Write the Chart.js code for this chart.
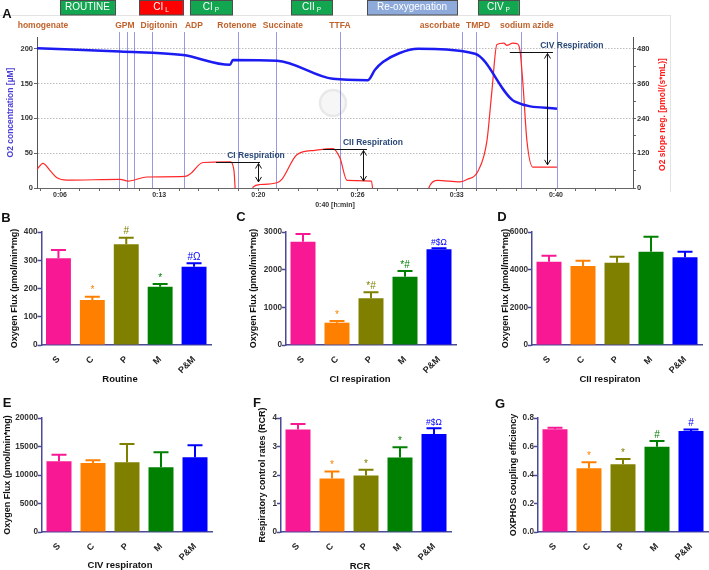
<!DOCTYPE html>
<html>
<head>
<meta charset="utf-8">
<script src="https://cdn.jsdelivr.net/npm/chart.js@4.4.1/dist/chart.umd.min.js"></script>
<style>
  body { margin: 0; background: #fff; }
  #fig { position: relative; width: 709px; height: 570px; background: #fff; overflow: hidden;
         font-family: 'Liberation Sans', Arial, sans-serif; }
  #fig canvas { position: absolute; }
  .lbl { position: absolute; font-weight: bold; color: #111; transform: translate(-50%, -50%); white-space: nowrap; }
  .letter { font-size: 13px; }
  .xt { font-size: 9.5px; }
</style>
</head>
<body>
<div id="fig">
  <canvas id="chartA" width="709" height="212" style="left:0;top:0"></canvas>
  <canvas id="chartB"></canvas>
  <canvas id="chartC"></canvas>
  <canvas id="chartD"></canvas>
  <canvas id="chartE"></canvas>
  <canvas id="chartF"></canvas>
  <canvas id="chartG"></canvas>

  <div class="lbl letter" style="left:7px;top:13px">A</div>
  <div class="lbl letter" style="left:6px;top:217px">B</div>
  <div class="lbl letter" style="left:241px;top:216px">C</div>
  <div class="lbl letter" style="left:502px;top:216px">D</div>
  <div class="lbl letter" style="left:7px;top:402px">E</div>
  <div class="lbl letter" style="left:257px;top:402px">F</div>
  <div class="lbl letter" style="left:500px;top:403px">G</div>

  <div class="lbl xt" style="left:120px;top:378px">Routine</div>
  <div class="lbl xt" style="left:360px;top:378px">CI respiration</div>
  <div class="lbl xt" style="left:610px;top:378px">CII respiraton</div>
  <div class="lbl xt" style="left:120px;top:564px">CIV respiraton</div>
  <div class="lbl xt" style="left:360px;top:565px">RCR</div>
</div>

<script>
// ---- Panel A: oxygraph trace (time in minutes) ----
const o2Time = [5.12, 10.7, 14.93, 18.09, 18.29, 21.25, 25.0, 27.36, 27.84, 28.37, 29.5, 30.73, 34.56, 37.25, 40.07];
const o2Conc = [201, 196, 191, 177, 184, 183, 157, 155, 170, 181, 194, 200, 193, 124, 114];

const slopeTime = [5.12, 5.52, 6.0, 6.47, 7.14, 10.7, 11.24, 12.51, 15.07, 15.4, 16.28, 18.09, 18.36, 18.5, 19.5,
  19.64, 20.11, 21.25, 21.59, 22.59, 23.8, 25.0, 25.48, 25.96, 27.6, 27.77, 31.26, 31.47, 32.0, 33.55,
  34.02, 34.76, 35.36, 35.7, 36.03, 36.5, 36.7, 37.1, 37.38, 37.58, 37.78, 38.05, 38.45, 40.07];
const slopeVal = [64, 85, 60, 35, 27, 30, 24, 38, 40, 48, 88, 90, 60, -40, -40,
  3, 12, 18, 31, 115, 130, 136, 104, 26, 24, -40, -40, 2, 26, 21,
  29, 58, 162, 337, 495, 500, 492, 500, 498, 476, 361, 163, 72, 72];

const xTickValues = [6.667, 13.333, 20, 26.667, 33.333, 40];
const xTickLabels = ['0:06', '0:13', '0:20', '0:26', '0:33', '0:40'];
const o2Ticks = [0, 50, 100, 150, 200];
const slopeTicks = [0, 120, 240, 360, 480];

const eventNames = ['homogenate', 'GPM', 'Digitonin', 'ADP', 'Rotenone', 'Succinate', 'TTFA', 'ascorbate', 'TMPD', 'sodium azide'];
const eventLabelAt = [5.52, 11.03, 13.32, 15.67, 18.56, 21.65, 25.48, 32.2, 34.76, 38.05];
const eventLines = [10.63, 11.17, 11.64, 12.85, 15.0, 18.63, 21.18, 25.48, 33.68, 34.62, 37.65, 40.07];

const stateNames = ['ROUTINE', 'CI', 'CI', 'CII', 'Re-oxygenation', 'CIV'];
const stateSubs = ['', 'L', 'P', 'P', '', 'P'];
const stateFrom = [6.67, 11.98, 15.4, 22.19, 27.3, 34.76];
const stateTo = [10.36, 14.93, 18.23, 24.95, 33.35, 37.51];
const stateColors = ['#12a650', '#ff0000', '#12a650', '#12a650', '#8eaadb', '#12a650'];

const respNames = ['CI Respiration', 'CII Respiration', 'CIV Respiration'];
const respLineFrom = [17.15, 24.34, 36.9];
const respLineTo = [20.11, 27.3, 39.8];
const respTop = [90, 136, 470];
const respArrowAt = [19.97, 27.03, 39.4];
const respBottom = [21, 24, 80];
const respTextAt = [19.84, 27.7, 41.07];

// ---- Panels B-G: group means and SEM ----
const groups = ['S', 'C', 'P', 'M', 'P&M'];
const groupColors = ['#f81894', '#ff8000', '#808000', '#008000', '#0000ff'];

const routineMean = [307, 159, 357, 206, 277];
const routineSem = [29, 12, 23, 10, 12];
const routineSig = ['', '*', '#', '*', '#Ω'];

const ciMean = [2743, 593, 1239, 1814, 2540];
const ciSem = [204, 44, 159, 151, 26];
const ciSig = ['', '*', '*#', '*#', '#$Ω'];

const ciiMean = [4425, 4195, 4372, 4956, 4655];
const ciiSem = [319, 283, 318, 796, 301];

const civMean = [12400, 12100, 12220, 11345, 13100];
const civSem = [1170, 470, 3220, 2630, 2100];

const rcrMean = [3.6, 1.88, 1.98, 2.61, 3.44];
const rcrSem = [0.19, 0.24, 0.20, 0.36, 0.20];
const rcrSig = ['', '*', '*', '*', '#$Ω'];

const oxMean = [0.721, 0.447, 0.475, 0.599, 0.709];
const oxSem = [0.011, 0.042, 0.037, 0.040, 0.011];
const oxSig = ['', '*', '*', '#', '#'];

const FONT = "'Liberation Sans', Arial, sans-serif";
const axisColor = '#4a4a96';

// minor tick helpers
function steps(from, to, step) {
  const out = [];
  for (let v = from; v <= to + 1e-9; v += step) out.push(+v.toFixed(4));
  return out;
}

function arrowHead(ctx, x, y, dir) {
  ctx.beginPath();
  ctx.moveTo(x, y);
  ctx.lineTo(x - 3, y - dir * 5);
  ctx.moveTo(x, y);
  ctx.lineTo(x + 3, y - dir * 5);
  ctx.stroke();
}

// extra drawing for panel A (markers, labels, protocol boxes)
const panelAExtras = {
  id: 'panelAExtras',
  beforeDatasetsDraw(chart) {
    const ctx = chart.ctx, xs = chart.scales.x, area = chart.chartArea;
    ctx.save();
    // faint frame
    ctx.strokeStyle = '#e4e4e4';
    ctx.lineWidth = 1;
    ctx.beginPath();
    ctx.moveTo(0, 15.5); ctx.lineTo(670, 15.5);
    ctx.moveTo(670.5, 15); ctx.lineTo(670.5, 192);
    ctx.stroke();
    // watermark
    ctx.strokeStyle = 'rgba(200,200,200,0.4)';
    ctx.lineWidth = 2.5;
    ctx.beginPath();
    ctx.arc(333, 103, 13, 0, Math.PI * 2);
    ctx.stroke();
    ctx.fillStyle = 'rgba(230,230,230,0.35)';
    ctx.fill();
    // event markers
    ctx.strokeStyle = 'rgba(110,110,215,0.7)';
    ctx.lineWidth = 1;
    eventLines.forEach(t => {
      const x = Math.round(xs.getPixelForValue(t)) + 0.5;
      ctx.beginPath();
      ctx.moveTo(x, 32);
      ctx.lineTo(x, area.bottom);
      ctx.stroke();
    });
    ctx.restore();
  },
  afterDraw(chart) {
    const ctx = chart.ctx, xs = chart.scales.x, y1 = chart.scales.y1, area = chart.chartArea;
    ctx.save();
    // event labels
    ctx.font = 'bold 8.5px ' + FONT;
    ctx.fillStyle = '#c0622c';
    ctx.textAlign = 'center';
    ctx.textBaseline = 'middle';
    eventNames.forEach((n, i) => ctx.fillText(n, xs.getPixelForValue(eventLabelAt[i]), 26));

    // protocol boxes
    stateNames.forEach((n, i) => {
      const x0 = xs.getPixelForValue(stateFrom[i]), x1 = xs.getPixelForValue(stateTo[i]);
      ctx.fillStyle = stateColors[i];
      ctx.fillRect(x0, 0, x1 - x0, 15);
      ctx.strokeStyle = '#4d4d4d';
      ctx.lineWidth = 1;
      ctx.strokeRect(Math.round(x0) + 0.5, 0.5, Math.round(x1 - x0), 14.5);
      ctx.fillStyle = '#fff';
      ctx.font = '10px ' + FONT;
      const mw = ctx.measureText(n).width;
      ctx.font = '6.5px ' + FONT;
      const sw = stateSubs[i] ? ctx.measureText(stateSubs[i]).width + 2 : 0;
      const sx = (x0 + x1) / 2 - (mw + sw) / 2;
      ctx.textAlign = 'left';
      ctx.font = '10px ' + FONT;
      ctx.fillText(n, sx, 7.5);
      if (stateSubs[i]) {
        ctx.font = '6.5px ' + FONT;
        ctx.fillText(stateSubs[i], sx + mw + 2, 10.5);
      }
    });

    // respiration annotations
    ctx.strokeStyle = '#111';
    ctx.lineWidth = 1;
    respNames.forEach((n, i) => {
      const yTop = Math.round(y1.getPixelForValue(respTop[i])) + 0.5;
      const yBot = y1.getPixelForValue(respBottom[i]);
      const xa = Math.round(xs.getPixelForValue(respArrowAt[i])) + 0.5;
      ctx.beginPath();
      ctx.moveTo(xs.getPixelForValue(respLineFrom[i]), yTop);
      ctx.lineTo(xs.getPixelForValue(respLineTo[i]), yTop);
      ctx.moveTo(xa, yTop + 1);
      ctx.lineTo(xa, yBot);
      ctx.stroke();
      arrowHead(ctx, xa, yTop + 1, -1);
      arrowHead(ctx, xa, yBot, 1);
      ctx.fillStyle = '#2b4a78';
      ctx.font = 'bold 8.5px ' + FONT;
      ctx.textAlign = 'center';
      ctx.fillText(n, xs.getPixelForValue(respTextAt[i]), yTop - 7);
    });

    // right axis title (reads bottom to top)
    ctx.translate(area.right + 30, (area.top + area.bottom) / 2 + 2);
    ctx.rotate(-Math.PI / 2);
    ctx.fillStyle = '#ff1a1a';
    ctx.font = 'bold 8.5px ' + FONT;
    ctx.textAlign = 'center';
    ctx.fillText('O2 slope neg. [pmol/(s*mL)]', 0, 0);
    ctx.restore();
  }
};

new Chart(document.getElementById('chartA'), {
  type: 'line',
  data: {
    datasets: [
      {
        label: 'O2 concentration',
        data: o2Time.map((t, i) => ({ x: t, y: o2Conc[i] })),
        yAxisID: 'y',
        borderColor: '#1b1bf2',
        borderWidth: 2.5,
        pointRadius: 0,
        cubicInterpolationMode: 'monotone'
      },
      {
        label: 'O2 slope neg.',
        data: slopeTime.map((t, i) => ({ x: t, y: slopeVal[i] })),
        yAxisID: 'y1',
        borderColor: '#ff2828',
        borderWidth: 1.2,
        pointRadius: 0,
        cubicInterpolationMode: 'monotone'
      }
    ]
  },
  options: {
    responsive: false,
    animation: false,
    layout: { padding: { top: 37, left: 0, right: 0, bottom: 0 } },
    plugins: { legend: { display: false }, tooltip: { enabled: false } },
    scales: {
      x: {
        type: 'linear',
        min: 5.12,
        max: 45.18,
        afterBuildTicks: s => { s.ticks = steps(5.333, 45, 4 / 3).map(v => ({ value: v })); },
        afterFit: s => { s.height = 24; },
        ticks: {
          autoSkip: false, maxRotation: 0, padding: 0, color: '#333',
          font: { family: FONT, size: 7, weight: 'bold' },
          callback: v => {
            const k = xTickValues.findIndex(t => Math.abs(t - v) < 0.01);
            return k >= 0 ? xTickLabels[k] : '';
          }
        },
        grid: { drawOnChartArea: false, tickLength: 3, tickColor: '#666' },
        border: { color: '#666' },
        title: { display: true, text: '0:40 [h:min]', color: '#333', font: { family: FONT, size: 7, weight: 'bold' }, padding: { top: 0, bottom: 2.5 } }
      },
      y: {
        position: 'left',
        min: 0,
        max: 217,
        afterBuildTicks: s => { s.ticks = o2Ticks.map(v => ({ value: v })); },
        afterFit: s => { s.width = 37; },
        ticks: { padding: 1, color: '#333', font: { family: FONT, size: 7.5, weight: 'bold' } },
        grid: { color: '#bdbdbd', lineWidth: 1, tickLength: 3, tickColor: '#666' },
        border: { color: '#555', dash: [1.5, 1.5] },
        title: { display: true, text: 'O2 concentration [µM]', color: '#4b3fd8', font: { family: FONT, size: 8.5, weight: 'bold' }, padding: { top: 6, bottom: 0 } }
      },
      y1: {
        position: 'right',
        min: 0,
        max: 521,
        afterBuildTicks: s => { s.ticks = steps(0, 510, 30).map(v => ({ value: v })); },
        afterFit: s => { s.width = 76; },
        ticks: {
          padding: 1, color: '#333', font: { family: FONT, size: 7.5, weight: 'bold' },
          callback: v => slopeTicks.includes(v) ? String(v) : ''
        },
        grid: { drawOnChartArea: false, tickLength: 3, tickColor: '#666' },
        border: { color: '#555' }
      }
    }
  },
  plugins: [panelAExtras]
});

// error bars and significance marks
const errorBars = {
  id: 'errorBars',
  afterDatasetsDraw(chart) {
    const ctx = chart.ctx, ds = chart.data.datasets[0], ys = chart.scales.y;
    chart.getDatasetMeta(0).data.forEach((bar, i) => {
      const top = ys.getPixelForValue(ds.data[i] + ds.sem[i]);
      const half = bar.width * 0.3;
      ctx.save();
      ctx.strokeStyle = groupColors[i];
      ctx.lineWidth = 2;
      ctx.beginPath();
      ctx.moveTo(bar.x, bar.y);
      ctx.lineTo(bar.x, top);
      ctx.moveTo(bar.x - half, top);
      ctx.lineTo(bar.x + half, top);
      ctx.stroke();
      if (ds.sig && ds.sig[i]) {
        const s = ds.sig[i];
        ctx.fillStyle = groupColors[i];
        ctx.font = (s.length > 2 ? '8.5px ' : '10px ') + FONT;
        ctx.textAlign = 'center';
        ctx.textBaseline = 'bottom';
        ctx.fillText(s, bar.x, top - 1);
      }
      ctx.restore();
    });
  }
};

function barPanel(id, p) {
  const cv = document.getElementById(id);
  const yw = p.axisX - p.titleX + 7;
  const padTop = 12, xh = 30, padRight = 6;
  cv.width = yw + (p.right - p.axisX) + padRight;
  cv.height = padTop + (p.bottom - p.top) + xh;
  cv.style.left = (p.axisX - yw) + 'px';
  cv.style.top = (p.top - padTop) + 'px';
  new Chart(cv, {
    type: 'bar',
    data: {
      labels: groups,
      datasets: [{
        data: p.mean,
        sem: p.sem,
        sig: p.sig,
        backgroundColor: groupColors,
        borderWidth: 0,
        barPercentage: 0.735,
        categoryPercentage: 1
      }]
    },
    options: {
      responsive: false,
      animation: false,
      layout: { padding: { top: padTop, right: padRight, left: 0, bottom: 0 } },
      plugins: { legend: { display: false }, tooltip: { enabled: false } },
      scales: {
        x: {
          grid: { display: false },
          border: { color: axisColor, width: 1.5 },
          ticks: { color: '#222', minRotation: 45, maxRotation: 45, padding: 1, font: { family: FONT, size: 9, weight: 'bold' } },
          afterFit: s => { s.height = xh; }
        },
        y: {
          min: 0,
          max: p.max,
          ticks: {
            stepSize: p.step, padding: 0, color: '#333',
            font: { family: FONT, size: 8.2, weight: 'bold' },
            callback: p.fmt || (v => String(v))
          },
          grid: { drawOnChartArea: false, tickLength: 4, tickColor: axisColor, tickWidth: 1.5 },
          border: { color: axisColor, width: 1.5 },
          title: { display: true, text: p.yTitle, color: '#111', font: { family: FONT, size: 9, weight: 'bold' }, padding: { top: 1.6, bottom: 0 } },
          afterFit: s => { s.width = yw; }
        }
      }
    },
    plugins: [errorBars]
  });
}

barPanel('chartB', { axisX: 41.5, right: 211.5, top: 232, bottom: 345, titleX: 15, max: 400, step: 100,
  mean: routineMean, sem: routineSem, sig: routineSig, yTitle: 'Oxygen Flux (pmol/min*mg)' });
barPanel('chartC', { axisX: 286, right: 456, top: 232, bottom: 345, titleX: 254, max: 3000, step: 1000,
  mean: ciMean, sem: ciSem, sig: ciSig, yTitle: 'Oxygen Flux (pmol/min*mg)' });
barPanel('chartD', { axisX: 532, right: 702, top: 232, bottom: 345, titleX: 506, max: 6000, step: 2000,
  mean: ciiMean, sem: ciiSem, sig: null, yTitle: 'Oxygen Flux (pmol/min*mg)' });
barPanel('chartE', { axisX: 42, right: 212, top: 418, bottom: 532, titleX: 8, max: 20000, step: 5000,
  mean: civMean, sem: civSem, sig: null, yTitle: 'Oxygen Flux (pmol/min*mg)' });
barPanel('chartF', { axisX: 281, right: 451, top: 418, bottom: 532, titleX: 263, max: 4, step: 1,
  mean: rcrMean, sem: rcrSem, sig: rcrSig, yTitle: 'Respiratory control rates (RCR)' });
barPanel('chartG', { axisX: 538, right: 708, top: 418, bottom: 532, titleX: 514, max: 0.8, step: 0.2,
  mean: oxMean, sem: oxSem, sig: oxSig, yTitle: 'OXPHOS coupling efficiency', fmt: v => v.toFixed(1) });
</script>
</body>
</html>
